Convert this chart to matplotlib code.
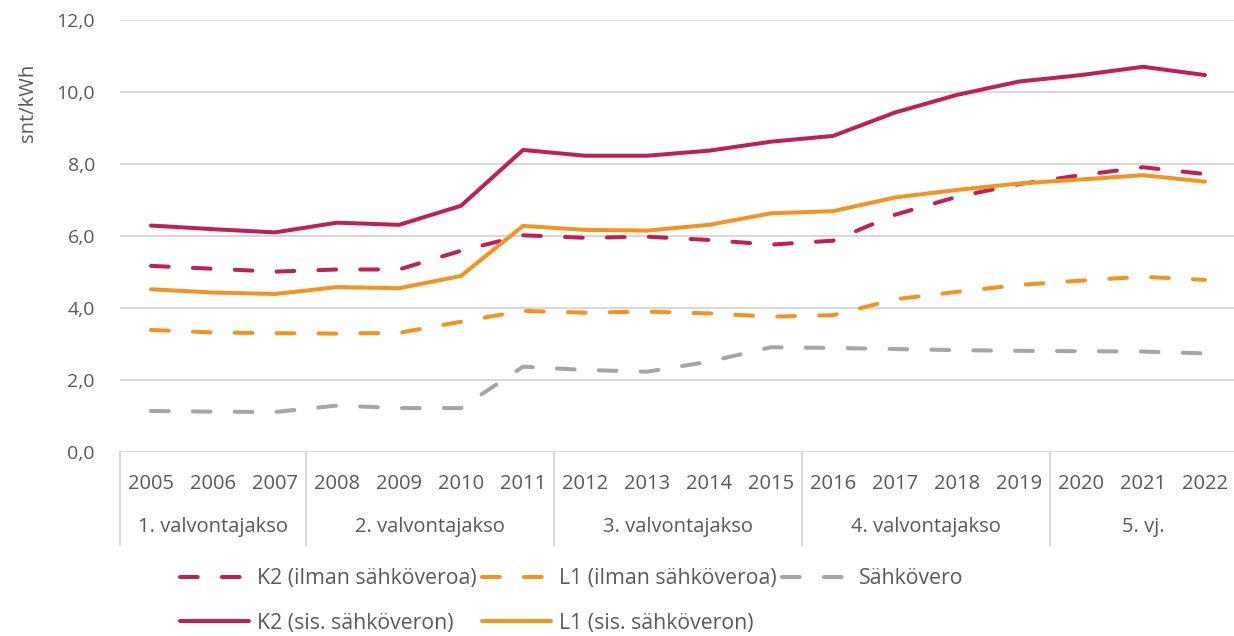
import matplotlib
matplotlib.use("Agg")
import matplotlib.pyplot as plt
from matplotlib.transforms import blended_transform_factory
from matplotlib.lines import Line2D

plt.rcParams['font.family'] = ['Open Sans', 'DejaVu Sans']

years = [str(y) for y in range(2005, 2023)]
periods = ["1. valvontajakso", "2. valvontajakso", "3. valvontajakso",
           "4. valvontajakso", "5. vj."]
period_sizes = [3, 4, 4, 4, 3]

k2_ilman = [5.17, 5.09, 5.01, 5.07, 5.07, 5.59, 6.02, 5.95, 5.98, 5.89, 5.76,
            5.87, 6.59, 7.09, 7.44, 7.69, 7.91, 7.72]
l1_ilman = [3.39, 3.32, 3.30, 3.29, 3.31, 3.62, 3.92, 3.87, 3.90, 3.85, 3.76,
            3.80, 4.24, 4.45, 4.64, 4.76, 4.87, 4.78]
sahkovero = [1.14, 1.12, 1.11, 1.29, 1.22, 1.22, 2.37, 2.28, 2.23, 2.51, 2.91,
             2.89, 2.86, 2.83, 2.81, 2.80, 2.79, 2.74]
k2_sis = [6.29, 6.19, 6.10, 6.37, 6.31, 6.84, 8.39, 8.23, 8.23, 8.37, 8.62,
          8.78, 9.43, 9.92, 10.29, 10.47, 10.70, 10.47]
l1_sis = [4.52, 4.43, 4.39, 4.58, 4.55, 4.89, 6.28, 6.17, 6.15, 6.31, 6.63,
          6.69, 7.07, 7.28, 7.46, 7.57, 7.69, 7.51]

labels = ["K2 (ilman sähköveroa)", "L1 (ilman sähköveroa)", "Sähkövero",
          "K2 (sis. sähköveron)", "L1 (sis. sähköveron)"]

C_K2 = "#BE2157"
C_L1 = "#F39422"
C_GR = "#A6A6A6"
TXT = "#595959"
GRID = "#D9D9D9"

W, H = 1234, 636
fig = plt.figure(figsize=(W / 100, H / 100), dpi=100)
ax = fig.add_axes([120 / W, 1 - 452 / H, 1116 / W, 432 / H])

x = list(range(len(years)))
lw = 2.9
dash = (0, (4.4, 6.0))
l_k2i, = ax.plot(x, k2_ilman, color=C_K2, lw=lw, linestyle=dash, dash_capstyle='round')
l_l1i, = ax.plot(x, l1_ilman, color=C_L1, lw=lw, linestyle=dash, dash_capstyle='round')
l_gr, = ax.plot(x, sahkovero, color=C_GR, lw=lw, linestyle=dash, dash_capstyle='round')
l_k2s, = ax.plot(x, k2_sis, color=C_K2, lw=lw, solid_capstyle='round', solid_joinstyle='round')
l_l1s, = ax.plot(x, l1_sis, color=C_L1, lw=lw, solid_capstyle='round', solid_joinstyle='round')

ax.set_xlim(-0.5, len(years) - 0.5)
ax.set_ylim(0, 12)
ax.set_yticks(range(0, 13, 2))
ax.set_yticklabels([f"{v},0" for v in range(0, 13, 2)])
ax.tick_params(axis='y', length=0, pad=18, labelsize=14, labelcolor=TXT)
ax.set_xticks([])
ax.grid(axis='y', color=GRID, lw=1.5)
ax.set_axisbelow(True)
for s in ax.spines.values():
    s.set_visible(False)
ax.axhline(0, color=GRID, lw=1.5, zorder=0)

# multi-level category axis
trans = blended_transform_factory(ax.transData, fig.transFigure)
y_year = 1 - 484 / H
y_period = 1 - 527 / H
y_sep_bot = 1 - 545 / H
y_sep_top = 1 - 452 / H
for i, yr in enumerate(years):
    fig.text(0, 0, yr, transform=trans, ha='center', va='center',
             fontsize=14.5, color=TXT).set_position((i, y_year))
start = 0
bounds = [-0.5]
for name, n in zip(periods, period_sizes):
    center = start + (n - 1) / 2
    fig.text(0, 0, name, transform=trans, ha='center', va='center',
             fontsize=14.5, color=TXT).set_position((center, y_period))
    start += n
    bounds.append(start - 0.5)
for b in bounds:
    fig.add_artist(Line2D([b, b], [y_sep_bot, y_sep_top], transform=trans,
                          color=GRID, lw=1.5))

# y label
fig.text(28 / W, 1 - 103 / H, "snt/kWh", rotation=90, ha='center', va='center',
         fontsize=14.5, color=TXT)

handles = [l_k2i, l_k2s, l_l1i, l_l1s, l_gr]
hlabels = [labels[0], labels[3], labels[1], labels[4], labels[2]]
leg = fig.legend(handles, hlabels, ncol=3, loc='upper left',
                 bbox_to_anchor=(180 / W, 1 - 568 / H), frameon=False,
                 fontsize=15.3, handlelength=3.25, handletextpad=0.37,
                 columnspacing=0.25, labelspacing=1.12, borderaxespad=0,
                 borderpad=0)
for t in leg.get_texts():
    t.set_color(TXT)

fig.savefig("out.png", dpi=100)
